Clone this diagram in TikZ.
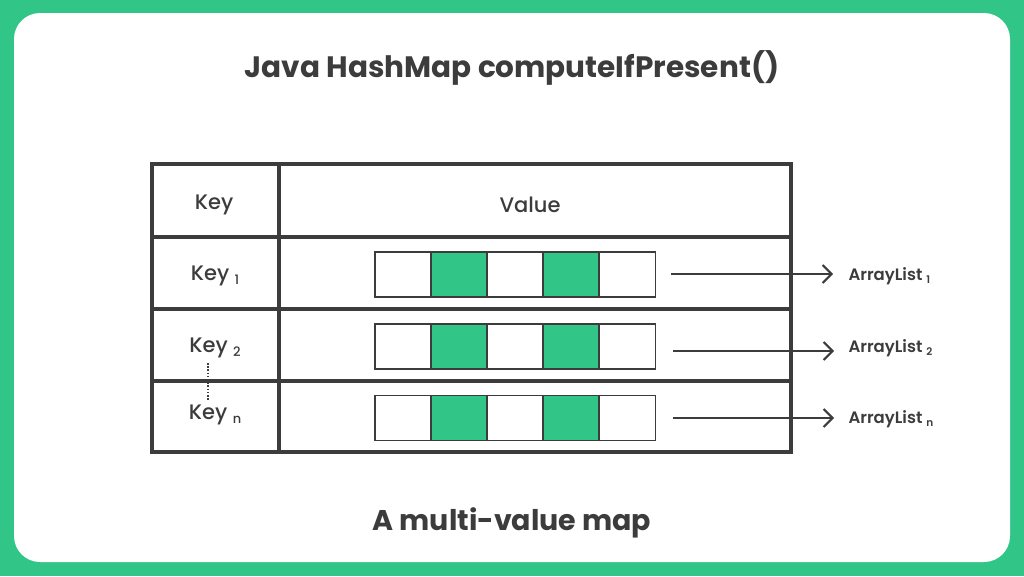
\documentclass[tikz,border=0pt]{standalone}
\usepackage{fontspec}
\setmainfont{Poppins}
\newfontfamily\pmed{Poppins Medium}
\newfontfamily\psemi{Poppins SemiBold}
\usetikzlibrary{arrows.meta}
\definecolor{gfg}{RGB}{49,198,135}
\definecolor{ink}{RGB}{60,60,60}
\begin{document}
\begin{tikzpicture}[x=1pt,y=-1pt,
  grid/.style={draw=ink,line width=3.2pt},
  cellw/.style={draw=ink,line width=1.5pt,fill=white,minimum width=56pt,minimum height=45pt,inner sep=0pt,outer sep=0pt},
  cellg/.style={cellw,fill=gfg},
  keytxt/.style={text=ink,font=\pmed\fontsize{21}{24}\selectfont},
  altxt/.style={text=ink,font=\psemi\fontsize{16.5}{19}\selectfont,anchor=west},
  link/.style={draw=ink,line width=2pt,-{Straight Barb[length=9pt,width=18pt,line width=2pt]}},
  ttl/.style={text=ink,font=\fontsize{29.5}{34}\selectfont\bfseries}]
\useasboundingbox (0,0) rectangle (1024,576);
\fill[gfg] (0,0) rectangle (1024,576);
\fill[white,rounded corners=26pt] (14,13) rectangle (1010,562);
\node[ttl] (title) at (512,68) {Java HashMap computeIfPresent()};
\node[ttl,font=\fontsize{28.5}{33}\selectfont\bfseries] (caption) at (512,523) {A multi-value map};
% table
\draw[grid] (152,164) rectangle (791,452);
\draw[grid] (279,164) -- (279,452);
\draw[grid] (152,237) -- (791,237);
\draw[grid] (152,309) -- (791,309);
\draw[grid] (152,381) -- (791,381);
\node[keytxt] (hkey) at (214,205) {Key};
\node[keytxt] (hval) at (530,205) {Value};
\node[keytxt] (k1) at (215,276) {Key\ \raisebox{-0.3ex}{\fontsize{13}{15}\selectfont 1}};
\node[keytxt] (k2) at (215,348) {Key\ \raisebox{-0.3ex}{\fontsize{13}{15}\selectfont 2}};
\node[keytxt] (kn) at (215,415) {Key\ \raisebox{-0.3ex}{\fontsize{13}{15}\selectfont n}};
\coordinate (d1) at (208,363);
\coordinate (d2) at (208,401);
\draw[ink,line width=1.5pt,dash pattern=on 1.6pt off 1.6pt] (d1) -- (d2);
% arrays
\foreach \r/\y in {a/274.5,b/346.5,c/418} {
  \node[cellw] (\r1) at (403,\y) {};
  \node[cellg] (\r2) at (459,\y) {};
  \node[cellw] (\r3) at (515,\y) {};
  \node[cellg] (\r4) at (571,\y) {};
  \node[cellw] (\r5) at (627.5,\y) {};
}
\node[altxt] (l1) at (845,276) {ArrayList\ \raisebox{-0.3ex}{\fontsize{10.5}{12}\selectfont 1}};
\node[altxt] (l2) at (845,348) {ArrayList\ \raisebox{-0.3ex}{\fontsize{10.5}{12}\selectfont 2}};
\node[altxt] (ln) at (845,419) {ArrayList\ \raisebox{-0.3ex}{\fontsize{10.5}{12}\selectfont n}};
\coordinate (s1) at (671,274);
\coordinate (e1) at (833,274);
\coordinate (s2) at (673,351);
\coordinate (e2) at (834,351);
\coordinate (s3) at (673,418);
\coordinate (e3) at (834,418);
\draw[link] (s1) -- (e1);
\draw[link] (s2) -- (e2);
\draw[link] (s3) -- (e3);
\end{tikzpicture}
\end{document}
